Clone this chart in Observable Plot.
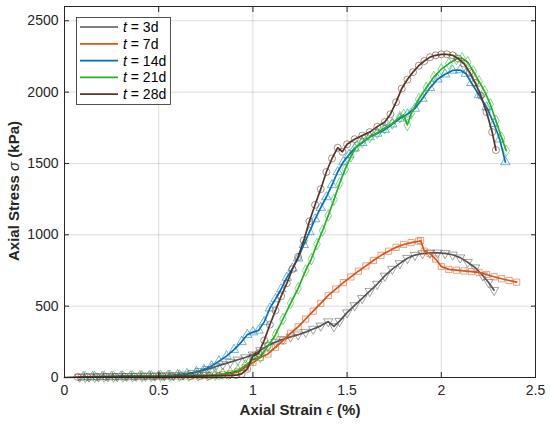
<!DOCTYPE html>
<html><head><meta charset="utf-8">
<script src="https://cdn.jsdelivr.net/npm/d3@7"></script>
<script src="https://cdn.jsdelivr.net/npm/@observablehq/plot@0.6"></script>
<style>body{margin:0;background:#fff}</style>
</head><body><div id="chart"></div>
<script>
// t = 3d
const strain3 = [0.08,0.13,0.18,0.23,0.28,0.33,0.38,0.43,0.48,0.53,0.58,0.63,0.68,0.72,0.76,0.80,0.84,0.88,0.92,0.96,1.00,1.04,1.08,1.12,1.16,1.20,1.24,1.28,1.32,1.36,1.40,1.43,1.46,1.50,1.54,1.58,1.62,1.66,1.70,1.74,1.78,1.82,1.86,1.90,1.94,1.98,2.02,2.06,2.10,2.14,2.18,2.22,2.25,2.28];
const stress3 = [4,5,6,7,8,9,10,11,12,13,15,20,30,44,58,75,92,108,124,140,160,190,225,248,268,285,300,318,340,362,392,358,395,455,505,555,605,655,712,760,800,836,858,869,874,874,870,860,840,808,770,715,668,612];
// t = 7d
const strain7 = [0.09,0.14,0.19,0.24,0.29,0.34,0.39,0.44,0.49,0.54,0.59,0.64,0.69,0.74,0.79,0.84,0.88,0.92,0.96,1.00,1.04,1.08,1.12,1.16,1.20,1.24,1.28,1.32,1.36,1.40,1.44,1.48,1.52,1.56,1.60,1.64,1.68,1.72,1.76,1.80,1.84,1.88,1.89,1.91,1.94,1.97,2.00,2.04,2.08,2.12,2.16,2.20,2.24,2.28,2.32,2.36,2.40];
const stress7 = [3,4,5,5,6,6,7,8,8,9,10,11,12,14,16,20,26,40,70,105,140,165,212,258,310,355,410,465,520,575,620,665,705,745,782,820,856,885,912,932,945,955,960,885,868,830,778,758,752,747,742,737,722,706,692,680,668];
// t = 14d
const strain14 = [0.10,0.15,0.20,0.25,0.30,0.35,0.40,0.45,0.50,0.55,0.60,0.65,0.70,0.74,0.78,0.82,0.86,0.90,0.94,0.97,1.00,1.03,1.06,1.09,1.12,1.15,1.18,1.21,1.24,1.27,1.30,1.33,1.36,1.39,1.42,1.45,1.48,1.51,1.54,1.58,1.62,1.66,1.70,1.74,1.78,1.82,1.86,1.90,1.94,1.98,2.02,2.06,2.10,2.13,2.16,2.20,2.24,2.28,2.31,2.34];
const stress14 = [4,5,6,7,8,9,10,11,12,14,18,26,40,55,80,115,150,195,250,300,318,330,390,485,550,620,700,765,835,930,1020,1110,1190,1265,1350,1440,1510,1560,1606,1645,1685,1710,1737,1775,1815,1845,1885,1955,2030,2090,2125,2152,2155,2130,2065,1980,1895,1778,1670,1510];
// t = 21d
const strain21 = [0.11,0.16,0.21,0.26,0.31,0.36,0.41,0.46,0.51,0.56,0.61,0.66,0.71,0.76,0.80,0.84,0.88,0.92,0.96,1.00,1.04,1.08,1.12,1.16,1.20,1.24,1.28,1.31,1.34,1.37,1.40,1.43,1.46,1.49,1.52,1.55,1.58,1.62,1.66,1.70,1.74,1.78,1.80,1.82,1.84,1.88,1.92,1.96,2.00,2.04,2.08,2.11,2.14,2.17,2.20,2.23,2.26,2.29,2.32,2.345];
const stress21 = [3,4,5,6,7,8,9,10,11,12,13,14,15,15,20,26,34,50,85,125,143,220,300,410,520,625,750,830,935,1030,1135,1245,1360,1460,1550,1620,1650,1685,1715,1748,1780,1825,1840,1770,1850,1950,2030,2105,2160,2200,2232,2238,2210,2145,2075,2005,1915,1800,1680,1590];
// t = 28d
const strain28 = [0,0.07,0.12,0.17,0.22,0.27,0.32,0.37,0.42,0.47,0.52,0.57,0.62,0.67,0.72,0.77,0.82,0.87,0.91,0.94,0.97,1.00,1.03,1.06,1.09,1.12,1.15,1.18,1.21,1.24,1.27,1.30,1.33,1.36,1.39,1.42,1.45,1.475,1.50,1.54,1.58,1.62,1.66,1.70,1.73,1.76,1.79,1.82,1.85,1.88,1.91,1.94,1.97,2.00,2.03,2.06,2.09,2.12,2.15,2.18,2.21,2.24,2.27,2.29];
const stress28 = [0,3,4,4,5,5,6,6,7,7,8,8,9,9,10,11,12,14,16,25,60,150,170,260,370,470,570,660,760,845,960,1095,1210,1320,1440,1535,1610,1582,1635,1670,1695,1720,1758,1790,1845,1930,2025,2088,2140,2185,2218,2245,2258,2265,2265,2258,2235,2200,2140,2065,1975,1860,1720,1594];

const names = ["3d","7d","14d","21d","28d"];
const colors = ["#555555","#D95319","#0072BD","#22B422","#5B3526"];
const symbols = ["triangle","square","triangle","diamond","circle"];
const rotations = [180,0,0,0,0];
const xTicks = [0,0.5,1,1.5,2,2.5];
const yTicks = [0,500,1000,1500,2000,2500];

const strains = [strain3,strain7,strain14,strain21,strain28];
const stresses = [stress3,stress7,stress14,stress21,stress28];
const seriesData = names.map((n,k)=>strains[k].map((x,i)=>({x, y:stresses[k][i], name:n})));

const marks = [
  Plot.gridX(xTicks,{stroke:"#000",strokeOpacity:0.14}),
  Plot.gridY(yTicks,{stroke:"#000",strokeOpacity:0.14}),
];
seriesData.forEach((d,k)=>{
  marks.push(Plot.line(d,{x:"x",y:"y",stroke:colors[k],strokeWidth:1.7}));
  marks.push(Plot.dot(d.filter(p=>p.x>0),{x:"x",y:"y",symbol:symbols[k],r:3.5,stroke:colors[k],strokeOpacity:0.6,strokeWidth:0.9,fill:"none",rotate:rotations[k]}));
});
const fmt = d => String(d);
marks.push(
  Plot.axisX({ticks:xTicks,tickSize:-5,tickPadding:13,tickFormat:fmt,label:null,fontSize:14}),
  Plot.axisX({ticks:xTicks,anchor:"top",tickSize:-5,tickFormat:()=>"",label:null}),
  Plot.axisY({ticks:yTicks,tickSize:-5,tickPadding:11,tickFormat:fmt,label:null,fontSize:14}),
  Plot.axisY({ticks:yTicks,anchor:"right",tickSize:-5,tickFormat:()=>"",label:null}),
  Plot.frame({stroke:"#262626",strokeWidth:1})
);

const chart = Plot.plot({
  width:550, height:424,
  marginLeft:64, marginRight:15, marginTop:6, marginBottom:47,
  x:{domain:[0,2.5]},
  y:{domain:[0,2600]},
  style:{fontFamily:"'Liberation Sans', Arial, sans-serif", fontSize:"14px", color:"#262626", background:"#fff"},
  marks
});
document.getElementById("chart").appendChild(chart);

const svg = d3.select(chart);
const font = "'Liberation Sans', Arial, sans-serif";
// axis labels
const xl = svg.append("text").attr("x",300).attr("y",415).attr("text-anchor","middle")
  .attr("font-family",font).attr("font-size",15).attr("font-weight","bold").attr("fill","#262626");
xl.append("tspan").text("Axial Strain ");
xl.append("tspan").attr("font-style","italic").attr("font-weight","normal").text("ϵ");
xl.append("tspan").text(" (%)");
const yl = svg.append("text").attr("transform","translate(19,191) rotate(-90)").attr("text-anchor","middle")
  .attr("font-family",font).attr("font-size",15).attr("font-weight","bold").attr("fill","#262626");
yl.append("tspan").text("Axial Stress ");
yl.append("tspan").attr("font-style","italic").attr("font-weight","normal").text("σ");
yl.append("tspan").text(" (kPa)");

// legend
const lg = svg.append("g").attr("text-anchor","start");
lg.append("rect").attr("x",76.5).attr("y",17.5).attr("width",94).attr("height",87)
  .attr("fill","#fff").attr("stroke","#262626").attr("stroke-width",0.8);
names.forEach((n,k)=>{
  const y = 27 + k*16.8;
  lg.append("line").attr("x1",80).attr("x2",118).attr("y1",y).attr("y2",y)
    .attr("stroke",colors[k]).attr("stroke-width",1.7);
  const t = lg.append("text").attr("x",123).attr("y",y).attr("dy","0.36em").attr("text-anchor","start")
    .attr("font-family",font).attr("font-size",14).attr("fill","#000").style("white-space","pre");
  t.append("tspan").attr("font-style","italic").text("t");
  t.append("tspan").text(" = " + n);
});
</script>
</body></html>
